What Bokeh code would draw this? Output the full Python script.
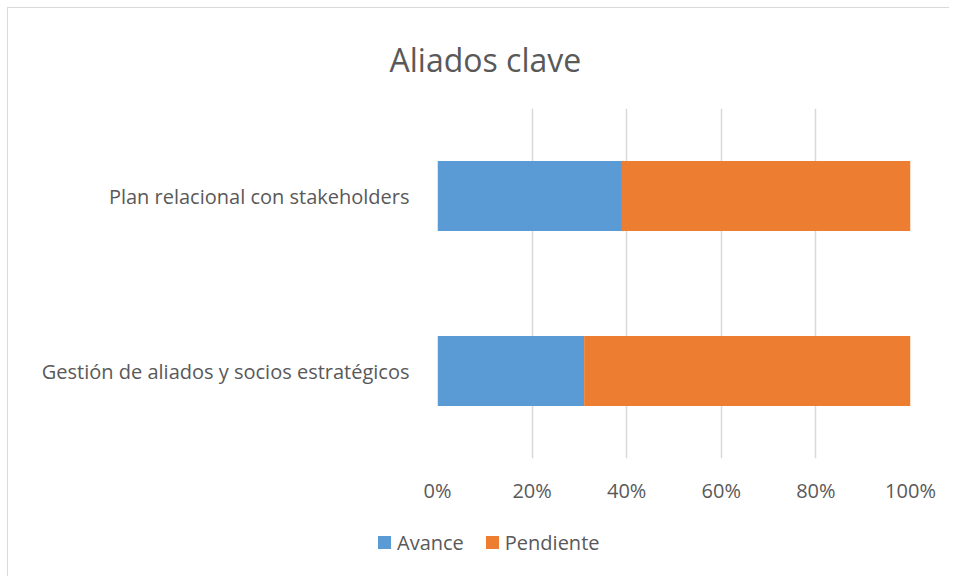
from bokeh.plotting import figure
from bokeh.layouts import column
from bokeh.models import (ColumnDataSource, FactorRange, Range1d, NumeralTickFormatter,
                          FixedTicker, Title, Div)
from bokeh.embed import file_html
from bokeh.resources import INLINE

categories = ["Gestión de aliados y socios estratégicos", "Plan relacional con stakeholders"]
avance = [0.31, 0.39]
pendiente = [0.69, 0.61]
series = ["Avance", "Pendiente"]
colors = ["#5B9BD5", "#ED7D31"]
x_ticks = [0, 0.2, 0.4, 0.6, 0.8, 1.0]

FONT = "Open Sans"
GREY = "#595959"

source = ColumnDataSource(dict(cat=categories, Avance=avance, Pendiente=pendiente))

p = figure(width=931, height=510, output_backend="svg", toolbar_location=None,
           y_range=FactorRange(factors=categories), x_range=Range1d(0, 1),
           min_border_left=429, min_border_right=29, min_border_top=98, min_border_bottom=60)

p.hbar_stack(series, y="cat", height=0.4, color=colors, source=source, line_color=None)

p.title = Title(text="Aliados clave", align="left", offset=-48, standoff=55,
                text_font=FONT, text_font_size="32px", text_font_style="normal", text_color=GREY)

p.outline_line_color = None
p.background_fill_color = "white"
p.border_fill_color = "white"

p.xaxis.ticker = FixedTicker(ticks=x_ticks)
p.xaxis.formatter = NumeralTickFormatter(format="0%")
p.xaxis.axis_line_color = None
p.xaxis.major_tick_line_color = None
p.xaxis.minor_tick_line_color = None
p.xaxis.major_label_standoff = 12
p.xaxis.major_label_text_font = FONT
p.xaxis.major_label_text_font_size = "20px"
p.xaxis.major_label_text_color = GREY

p.yaxis.axis_line_color = None
p.yaxis.major_tick_line_color = None
p.yaxis.minor_tick_line_color = None
p.yaxis.major_label_standoff = 22
p.yaxis.major_label_text_font = FONT
p.yaxis.major_label_text_font_size = "20px"
p.yaxis.major_label_text_color = GREY

p.xgrid.grid_line_color = "#d9d9d9"
p.xgrid.grid_line_width = 1.5
p.ygrid.grid_line_color = None

# legend row below the chart
items_html = "".join(
    f'<span style="display:inline-flex;align-items:center;margin-right:22px;">'
    f'<span style="display:inline-block;width:13px;height:13px;background:{c};margin-right:6px;"></span>'
    f'{s}</span>'
    for s, c in zip(series, colors)
)
legend_div = Div(
    text=f'<div style="font-family:\'{FONT}\';font-size:20px;color:{GREY};line-height:27px;'
         f'padding-left:365px;padding-top:5px;white-space:nowrap;">{items_html}</div>',
    width=931, height=50)

layout = column(p, legend_div, spacing=0)
layout.styles = {"border-top": "1px solid #d9d9d9", "border-left": "1px solid #d9d9d9",
                 "margin-left": "7px", "margin-top": "7px"}

open("out.html", "w").write(file_html(layout, INLINE))
